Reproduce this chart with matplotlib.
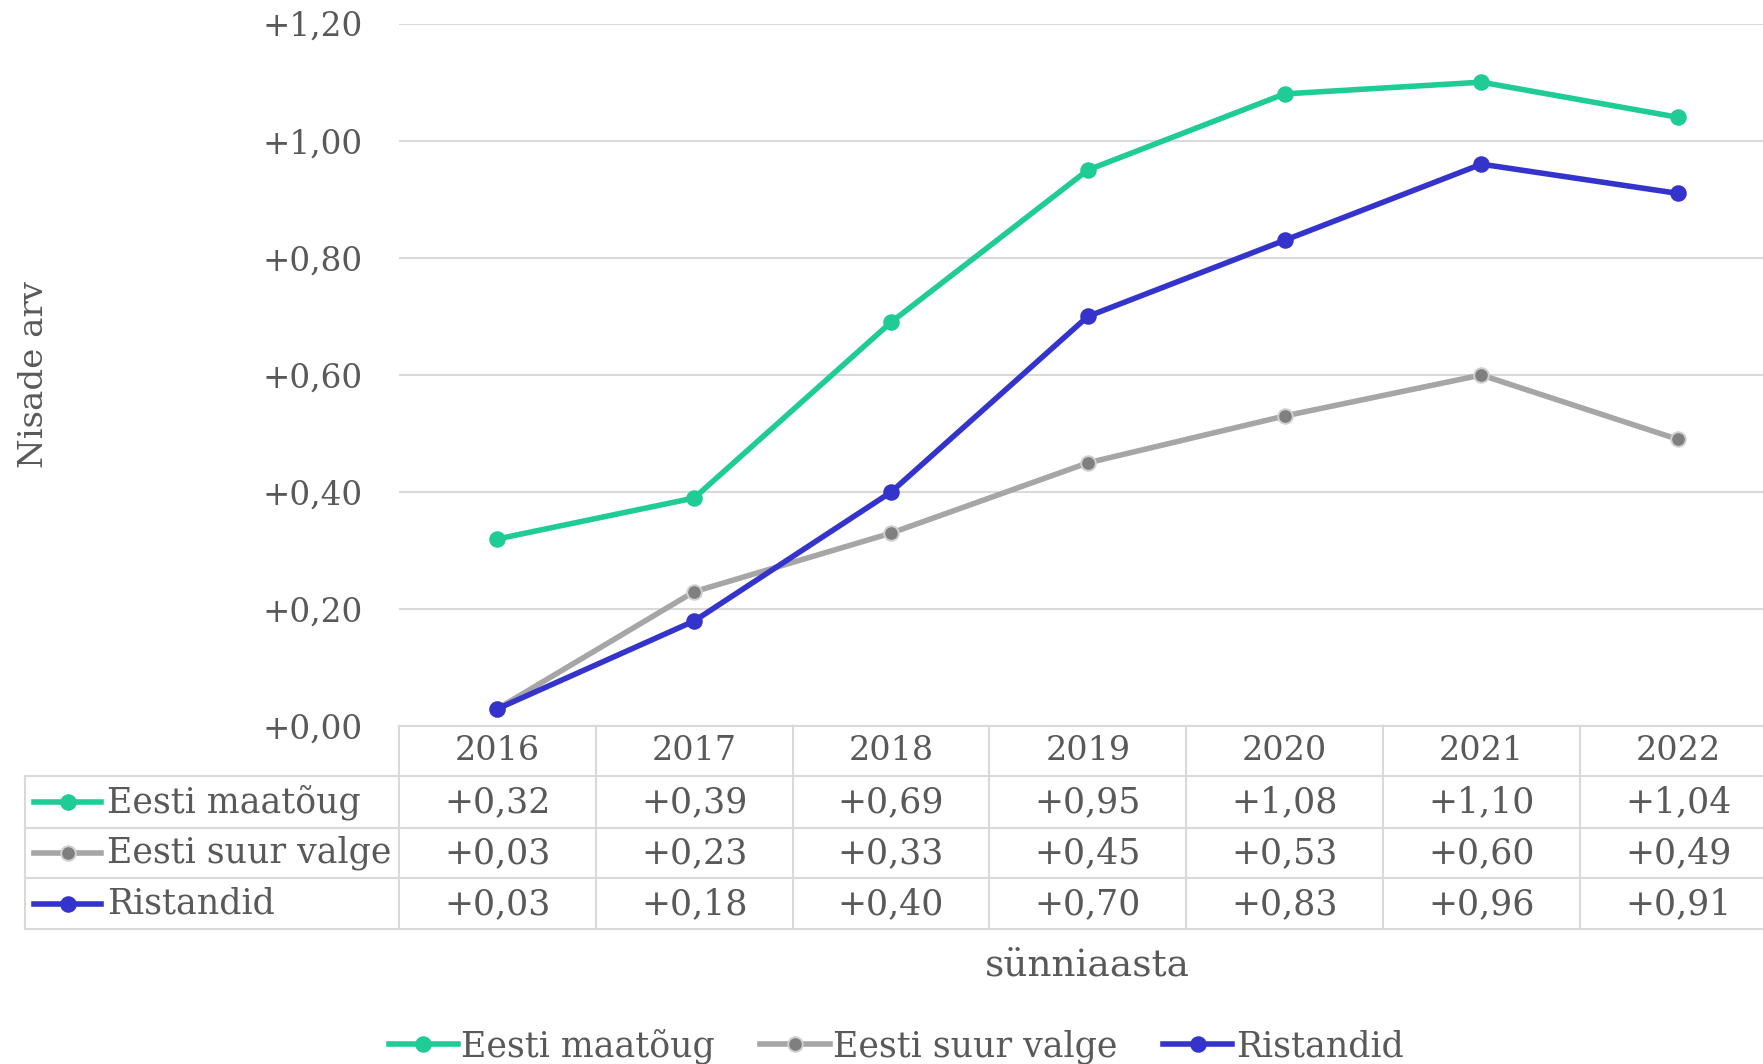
import matplotlib.pyplot as plt
import matplotlib.transforms as mtransforms
from matplotlib.lines import Line2D
import numpy as np

# andmed
years = ["2016", "2017", "2018", "2019", "2020", "2021", "2022"]
series_names = ["Eesti maatõug", "Eesti suur valge", "Ristandid"]
maatoug = [0.32, 0.39, 0.69, 0.95, 1.08, 1.10, 1.04]
suur_valge = [0.03, 0.23, 0.33, 0.45, 0.53, 0.60, 0.49]
ristandid = [0.03, 0.18, 0.40, 0.70, 0.83, 0.96, 0.91]
yticks = [0.0, 0.2, 0.4, 0.6, 0.8, 1.0, 1.2]

colors = ["#1fcc96", "#a6a6a6", "#3434cc"]
mfaces = ["#1fcc96", "#7f7f7f", "#3434cc"]
medges = ["#1fcc96", "#d0d0d0", "#3434cc"]
txt = "#595959"
gridc = "#d9d9d9"

plt.rcParams['font.family'] = ['DejaVu Serif']

W, H = 1763, 1064
fig = plt.figure(figsize=(W / 100, H / 100), dpi=100)

def fx(px):
    return px / W

def fy(py):
    return 1 - py / H

def fmt(v):
    return "+" + f"{v:.2f}".replace(".", ",")

# zone du graphique en pixels
left, right, top, bottom = 399, 1776.6, 23.6, 726.4
ax = fig.add_axes([fx(left), fy(bottom), fx(right - left), (bottom - top) / H])

x = np.arange(len(years))
data = [maatoug, suur_valge, ristandid]
lw, ms = 4.0, 10.5
lines = []
for vals, c, mf, me, name in zip(data, colors, mfaces, medges, series_names):
    ln, = ax.plot(x, vals, color=c, lw=lw, marker="o", markersize=ms,
                  markerfacecolor=mf, markeredgecolor=me, markeredgewidth=1.4,
                  label=name, zorder=3)
    lines.append(ln)

ax.set_xlim(-0.5, len(years) - 0.5)
ax.set_ylim(0, 1.2)
ax.set_yticks(yticks)
ax.set_yticklabels([fmt(v) for v in yticks], color=txt, fontsize=23.5)
ax.tick_params(axis="y", length=0, pad=26)
ax.set_xticks([])
ax.grid(axis="y", color=gridc, lw=1.5)
ax.set_axisbelow(True)
for s in ax.spines.values():
    s.set_visible(False)

# tabel
bt = mtransforms.blended_transform_factory(ax.transData, fig.transFigure)
row_lines = [776, 827.6, 878, 928.7]
for yy in [bottom] + row_lines:
    x0 = left if yy == bottom else 24.7
    fig.add_artist(Line2D([fx(x0), 1.0], [fy(yy), fy(yy)], color=gridc, lw=1.5))
for b in np.arange(len(years) + 1) - 0.5:
    ax.add_artist(Line2D([b, b], [fy(bottom), fy(928.7)], transform=bt,
                         color=gridc, lw=1.5, clip_on=False))
fig.add_artist(Line2D([fx(24.7), fx(24.7)], [fy(776), fy(928.7)], color=gridc, lw=1.5))

for i, yr in enumerate(years):
    ax.text(i, fy(751), yr, transform=bt, ha="center", va="center",
            fontsize=24, color=txt, clip_on=False)

row_c = [802, 853, 904]
for r, (vals, name) in enumerate(zip(data, series_names)):
    for i, v in enumerate(vals):
        ax.text(i, fy(row_c[r]), fmt(v), transform=bt,
                ha="center", va="center", fontsize=25, color=txt, clip_on=False)
    fig.add_artist(Line2D([fx(34), fx(67.5), fx(101)], [fy(row_c[r])] * 3,
                          color=colors[r], lw=lw, marker="o", markersize=ms,
                          markevery=[1], markerfacecolor=mfaces[r],
                          markeredgecolor=medges[r], markeredgewidth=1.4))
    fig.text(fx(107), fy(row_c[r]), name, ha="left", va="center",
             fontsize=25, color=txt)

fig.text(fx(1087), fy(965), "sünniaasta", ha="center", va="center",
         fontsize=27, color=txt)
fig.text(fx(34), fy(374), "Nisade arv", ha="center", va="center",
         rotation=90, fontsize=24.5, color=txt)

fig.legend(handles=lines, loc="center", bbox_to_anchor=(fx(896), fy(1046)),
           ncol=3, frameon=False, fontsize=25, labelcolor=txt,
           handlelength=2.0, handletextpad=0.1, columnspacing=1.3)

fig.savefig("out.png", dpi=100)
